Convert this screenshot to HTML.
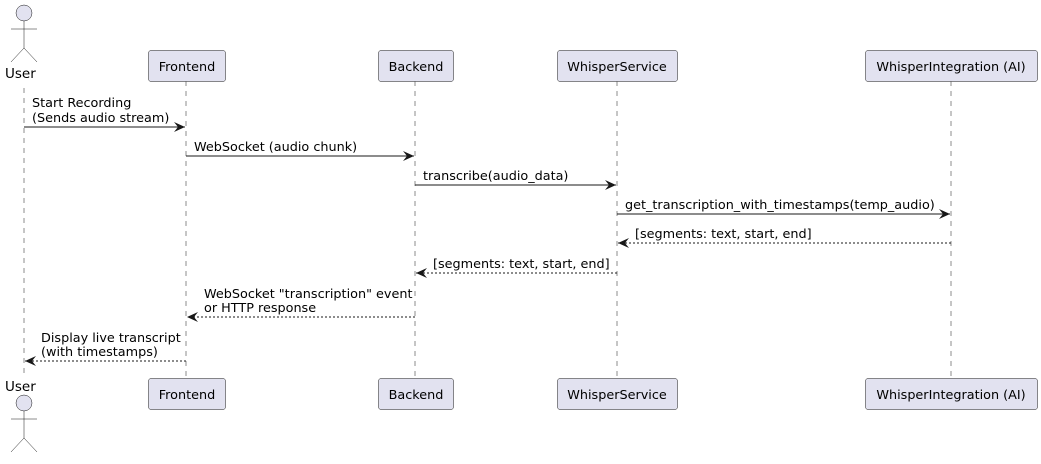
<!DOCTYPE html>
<html><head><meta charset="utf-8"><style>
body{margin:0;background:#fff;}
svg text{font-family:"DejaVu Sans",sans-serif;font-size:12.8px;fill:#000;}
</style></head><body>
<svg width="1041" height="459" viewBox="0 0 1041 459" xmlns="http://www.w3.org/2000/svg">
<defs>
<marker id="a" markerWidth="12" markerHeight="10" refX="11" refY="5" orient="auto" markerUnits="userSpaceOnUse">
<path d="M0,0 L11,5 L0,10 L4,5 Z" fill="#181818"/></marker>
</defs>
<g stroke="#181818" stroke-width="0.5" stroke-dasharray="5,5">
<line x1="24" y1="88" x2="24" y2="378"/>
<line x1="186" y1="81" x2="186" y2="378"/>
<line x1="415" y1="81" x2="415" y2="378"/>
<line x1="617" y1="81" x2="617" y2="378"/>
<line x1="951" y1="81" x2="951" y2="378"/>
</g>
<g fill="#E2E2F0" stroke="#181818" stroke-width="0.5">
<rect x="148.5" y="50.5" width="77" height="31" rx="2.5"/>
<rect x="378.5" y="50.5" width="75" height="31" rx="2.5"/>
<rect x="557.5" y="50.5" width="120" height="31" rx="2.5"/>
<rect x="865.5" y="50.5" width="172" height="31" rx="2.5"/>
<rect x="148.5" y="378.5" width="77" height="31" rx="2.5"/>
<rect x="378.5" y="378.5" width="75" height="31" rx="2.5"/>
<rect x="557.5" y="378.5" width="120" height="31" rx="2.5"/>
<rect x="865.5" y="378.5" width="172" height="31" rx="2.5"/>
<circle cx="24" cy="13" r="8"/>
<circle cx="24" cy="403" r="8"/>
</g>
<g stroke="#181818" stroke-width="0.5" fill="none">
<path d="M24,21 V48 M11,29 H37 M11,62 L24,48 L37,62"/>
<path d="M24,411 V438 M11,419 H37 M11,452 L24,438 L37,452"/>
</g>
<text x="5" y="78" style="font-size:13.5px">User</text>
<text x="5" y="391" style="font-size:13.5px">User</text>
<g text-anchor="middle">
<text x="187" y="71">Frontend</text><text x="416" y="71">Backend</text>
<text x="617" y="71">WhisperService</text><text x="951" y="71">WhisperIntegration (AI)</text>
<text x="187" y="399">Frontend</text><text x="416" y="399">Backend</text>
<text x="617" y="399">WhisperService</text><text x="951" y="399">WhisperIntegration (AI)</text>
</g>
<g stroke="#181818" stroke-width="1" fill="none" marker-end="url(#a)">
<line x1="24" y1="127" x2="185" y2="127"/>
<line x1="186" y1="156" x2="414" y2="156"/>
<line x1="415" y1="185" x2="616" y2="185"/>
<line x1="617" y1="214" x2="950" y2="214"/>
</g>
<g stroke="#181818" stroke-width="1" fill="none" stroke-dasharray="2,2" marker-end="url(#a)">
<line x1="951" y1="243" x2="618" y2="243"/>
<line x1="617" y1="273" x2="416" y2="273"/>
<line x1="415" y1="317" x2="187" y2="317"/>
<line x1="186" y1="361" x2="25" y2="361"/>
</g>
<text x="32" y="107">Start Recording</text>
<text x="32" y="122">(Sends audio stream)</text>
<text x="194" y="151">WebSocket (audio chunk)</text>
<text x="423" y="180">transcribe(audio_data)</text>
<text x="625" y="209">get_transcription_with_timestamps(temp_audio)</text>
<text x="635" y="238">[segments: text, start, end]</text>
<text x="433" y="268">[segments: text, start, end]</text>
<text x="204" y="298">WebSocket "transcription" event</text>
<text x="204" y="312">or HTTP response</text>
<text x="41" y="342">Display live transcript</text>
<text x="41" y="356">(with timestamps)</text>
</svg>
</body></html>
